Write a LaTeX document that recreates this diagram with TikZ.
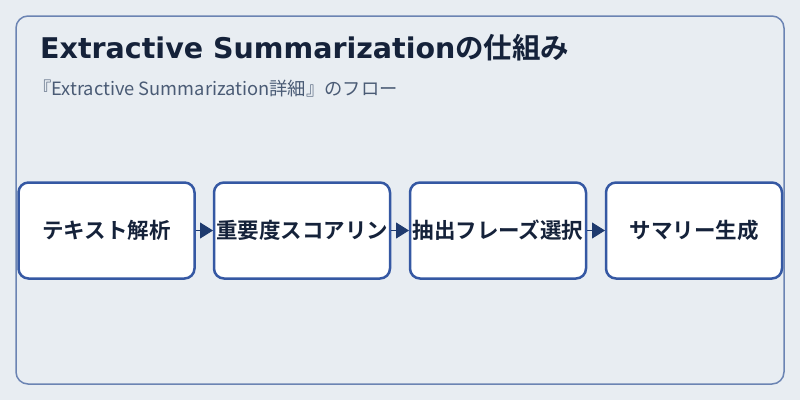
\documentclass[tikz,border=0pt]{standalone}
\usepackage{fontspec}
\setmainfont{Noto Sans CJK JP}[BoldFont={* Bold}]
\newfontfamily\latinbold{DejaVu Sans}[BoldFont={* Bold}]
\usetikzlibrary{arrows.meta}
\definecolor{bgc}{HTML}{E8EDF2}
\definecolor{framec}{HTML}{6B84B3}
\definecolor{boxc}{HTML}{3558A3}
\definecolor{arrc}{HTML}{1E3A6E}
\definecolor{titlec}{HTML}{15223A}
\definecolor{subc}{HTML}{4A5B75}
\tikzset{
  stepbox/.style={draw=boxc, line width=2.5pt, fill=white, rounded corners=10pt,
    minimum width=176pt, minimum height=96pt, inner sep=0pt, outer sep=0pt,
    text=titlec, font=\bfseries\fontsize{21.5}{24}\selectfont},
  flowarrow/.style={draw=arrc, line width=1pt, -{Triangle[length=13pt,width=16pt]}, shorten <=1pt, shorten >=1pt},
}
\begin{document}
\begin{tikzpicture}[x=1pt,y=-1pt]
\useasboundingbox (0,0) rectangle (800,400);
\fill[bgc] (0,0) rectangle (800,400);
\draw[framec, line width=1.5pt, rounded corners=12pt] (16,16) rectangle (784,384);
\node[anchor=base west, inner sep=0pt, text=titlec, font=\bfseries\fontsize{28.5}{32}\selectfont] (title) at (40,58) {{\latinbold\bfseries Extractive Summarization}の仕組み};
\node[anchor=base west, inner sep=0pt, text=subc, font=\fontsize{18.3}{21}\selectfont] (sub) at (33,95) {『Extractive Summarization詳細』のフロー};
\node[stepbox] (b1) at (106.5,230.5) {テキスト解析};
\node[stepbox] (b2) at (302,230.5) {重要度スコアリン};
\node[stepbox] (b3) at (498,230.5) {抽出フレーズ選択};
\node[stepbox] (b4) at (694,230.5) {サマリー生成};
\draw[flowarrow] (b1.east) -- (b2.west);
\draw[flowarrow] (b2.east) -- (b3.west);
\draw[flowarrow] (b3.east) -- (b4.west);
\end{tikzpicture}
\end{document}
